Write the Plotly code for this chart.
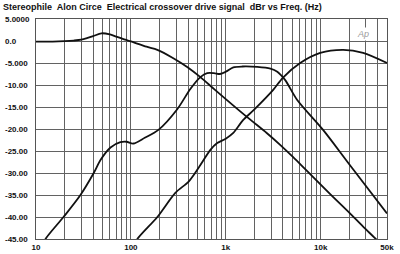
import plotly.graph_objects as go

# ---- data ----
woofer_f = [10, 15, 20, 25, 30, 35, 40, 49, 60, 70, 87, 100, 146, 190, 280, 392, 540, 770,
            1680, 2700, 3740, 5130, 7000, 12600, 20000, 28000, 39000, 42000]
woofer_db = [-0.15, -0.15, -0.05, 0.1, 0.3, 0.7, 1.1, 1.75, 1.5, 1.0, 0.3, -0.1, -1.3, -2.0,
             -3.9, -5.9, -8.2, -11.1, -17.3, -20.9, -23.6, -26.4, -29.3, -34.8, -39.0, -42.2,
             -45.2, -46.0]

mid_f = [11.5, 12.6, 19.5, 29.4, 40.6, 48, 61, 77.5, 90, 106, 140, 195, 308, 423, 540, 637,
         750, 870, 1000, 1200, 1500, 2150, 2950, 3490, 4230, 5660, 10600, 20000, 50000]
mid_db = [-47, -45, -40, -35, -30, -27, -24.2, -23.0, -22.9, -23.3, -22.0, -20.2, -15.5,
          -10.9, -8.2, -7.3, -7.3, -7.5, -7.0, -6.0, -5.8, -5.9, -6.3, -7.0, -8.9, -13.4,
          -20.2, -28.0, -39.2]

tw_f = [105, 117, 190, 294, 404, 475, 540, 685, 812, 1000, 1200, 1520, 1990, 3160, 4010,
        6080, 9890, 17300, 28000, 50000]
tw_db = [-47, -45, -40, -34.5, -32, -30, -28.2, -24.8, -23.2, -22.2, -20.9, -18.0, -15.6,
         -11.1, -8.3, -5.0, -2.7, -2.0, -2.7, -5.0]

x_grid = [m * 10 ** e for e in range(1, 5) for m in range(1, 10)]
x_grid = [v for v in x_grid if v <= 50000]
x_labels = {10: "10", 100: "100", 1000: "1k", 10000: "10k", 50000: "50k"}
x_ticktext = [x_labels.get(v, "") for v in x_grid]

y_ticks = [5, 0, -5, -10, -15, -20, -25, -30, -35, -40, -45]
y_ticktext = ["5.0000", "0.0", "-5.000", "-10.00", "-15.00", "-20.00", "-25.00",
              "-30.00", "-35.00", "-40.00", "-45.00"]

title_text = "Stereophile  Alon Circe  Electrical crossover drive signal  dBr vs Freq. (Hz)"

FONT = "Arial, Liberation Sans, sans-serif"

fig = go.Figure()
for fx, fy in [(woofer_f, woofer_db), (mid_f, mid_db), (tw_f, tw_db)]:
    fig.add_trace(go.Scatter(x=fx, y=fy, mode="lines",
                             line=dict(color="#111111", width=1.8, shape="spline", smoothing=0.8),
                             showlegend=False, hoverinfo="skip"))

fig.update_layout(
    width=400, height=254,
    margin=dict(l=36, r=13, t=19, b=15, autoexpand=False),
    paper_bgcolor="white", plot_bgcolor="white",
    title=dict(text="<b>" + title_text + "</b>", x=3 / 400, xanchor="left", xref="container",
               y=1 - 7 / 254, yanchor="middle", yref="container",
               font=dict(family=FONT, size=9, color="#111111")),
    xaxis=dict(type="log", range=[1, 4.69897], tickvals=x_grid, ticktext=x_ticktext,
               showgrid=True, gridcolor="#626262", gridwidth=1, ticks="", automargin=False,
               showline=True, mirror=True, linecolor="#555555", linewidth=1,
               tickfont=dict(family=FONT, size=8, color="#111111", weight="bold"),
               zeroline=False),
    yaxis=dict(range=[-45, 5], tickvals=y_ticks, showticklabels=False, automargin=False,
               showgrid=True, gridcolor="#626262", gridwidth=1, ticks="",
               showline=True, mirror=True, linecolor="#555555", linewidth=1,
               zeroline=False),
)

for v, t in zip(y_ticks, y_ticktext):
    fig.add_annotation(x=-33 / 351, xref="paper", xanchor="left", y=v, yref="y",
                       yanchor="middle", text="<b>" + t + "</b>", showarrow=False,
                       font=dict(family=FONT, size=8, color="#111111"))

fig.add_annotation(x=(371 - 36) / 351, y=1 - (27 - 19) / 220, xref="paper", yref="paper",
                   text="<i>Ap</i>", showarrow=False, bgcolor="white", borderpad=1,
                   font=dict(family=FONT, size=9, color="#9a9a9a"))

fig.write_html("out.html")
